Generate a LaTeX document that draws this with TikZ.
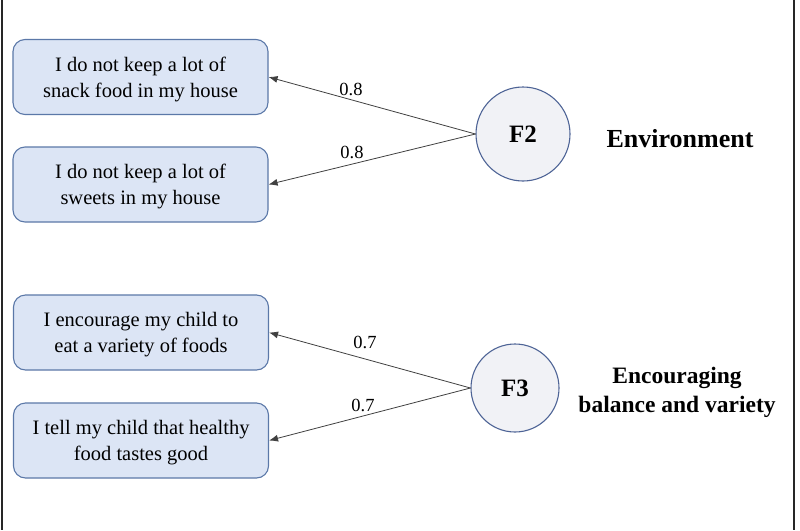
\documentclass[tikz,border=0pt]{standalone}
\usepackage{fontspec}
\setmainfont{Liberation Serif}
\usetikzlibrary{arrows.meta}
\definecolor{boxfill}{HTML}{DCE5F5}
\definecolor{boxline}{HTML}{5B78A8}
\definecolor{circfill}{HTML}{F1F2F6}
\definecolor{circline}{HTML}{4E6496}
\definecolor{arrowc}{HTML}{404040}
\tikzset{
  item/.style={draw=boxline, line width=1.1pt, fill=boxfill, rounded corners=12pt,
    minimum width=255pt, minimum height=75pt, align=center, inner sep=0pt,
    font=\fontsize{20.5}{26}\selectfont},
  factor/.style={circle, draw=circline, line width=1.1pt, fill=circfill, inner sep=0pt,
    font=\fontsize{25}{30}\selectfont\bfseries},
  title/.style={align=center, font=\fontsize{23.5}{29}\selectfont\bfseries},
  load/.style={font=\fontsize{18.5}{22}\selectfont, inner sep=0pt},
  conn/.style={draw=arrowc, line width=0.8pt, -{Latex[length=9pt,width=7pt]}},
  frame/.style={draw=black!85, line width=2pt}
}
\begin{document}
\begin{tikzpicture}[x=1pt,y=-1pt]
\useasboundingbox (0,0) rectangle (800,530);
\coordinate (ltop) at (2,0); \coordinate (lbot) at (2,530);
\coordinate (rtop) at (793.5,0); \coordinate (rbot) at (793.5,530);
\draw[frame] (ltop) -- (lbot);
\draw[frame] (rtop) -- (rbot);

\node[item, text depth=-3pt] (b1) at (140.5,77) {I do not keep a lot of\\snack food in my house};
\node[item, text depth=-3pt] (b2) at (140.5,184.5) {I do not keep a lot of\\sweets in my house};
\node[item, text depth=-3pt] (b3) at (141,332.5) {I encourage my child to\\eat a variety of foods};
\node[item, text depth=-3pt] (b4) at (141,440.5) {I tell my child that healthy\\food tastes good};

\node[factor, minimum size=94pt] (f2) at (523,134) {F2};
\node[factor, minimum size=88pt] (f3) at (515,388) {F3};

\node[title, font=\fontsize{26}{30}\selectfont\bfseries] (t2) at (680,139) {Environment};
\node[title] (t3) at (677,392) {Encouraging\\balance and variety};

\draw[conn] (f2.west) -- (b1.east);
\draw[conn] (f2.west) -- (b2.east);
\draw[conn] (f3.west) -- (b3.east);
\draw[conn] (f3.west) -- (b4.east);

\node[load] (l1) at (351,89) {0.8};
\node[load] (l2) at (352,152) {0.8};
\node[load] (l3) at (365,342) {0.7};
\node[load] (l4) at (363,405) {0.7};
\end{tikzpicture}
\end{document}
